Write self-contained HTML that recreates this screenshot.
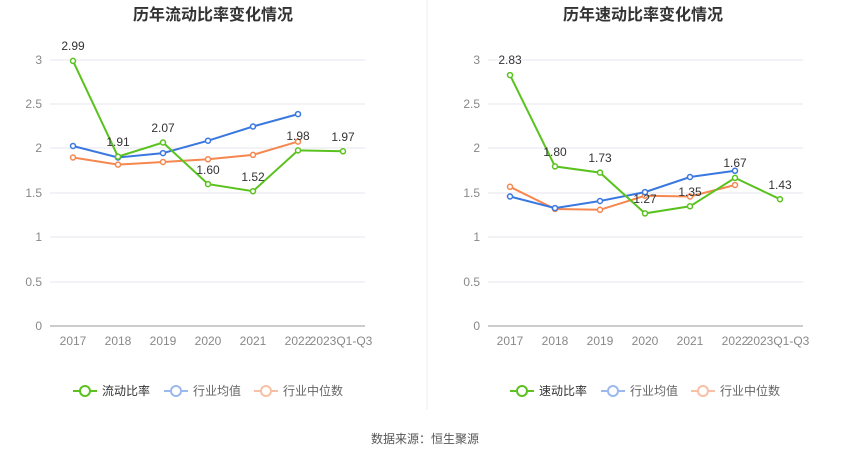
<!DOCTYPE html>
<html><head><meta charset="utf-8"><style>
body{margin:0;background:#fff;}
svg text{font-family:"Liberation Sans","Noto Sans CJK SC",sans-serif;}
</style></head><body>
<svg width="850" height="458" xmlns="http://www.w3.org/2000/svg">
<rect width="850" height="458" fill="#fff"/>
<line x1="427" y1="0" x2="427" y2="410" stroke="#eee"/>
<g id="L">
<text x="213" y="20" font-size="16" font-weight="bold" text-anchor="middle" fill="#333">历年流动比率变化情况</text>
<g stroke="#e6e6ef" stroke-width="1">
<line x1="50" y1="60" x2="365" y2="60"/><line x1="50" y1="104" x2="365" y2="104"/><line x1="50" y1="148" x2="365" y2="148"/><line x1="50" y1="193" x2="365" y2="193"/><line x1="50" y1="237" x2="365" y2="237"/><line x1="50" y1="282" x2="365" y2="282"/>
</g>
<line x1="50" y1="326" x2="365" y2="326" stroke="#999"/>
<g font-size="12" fill="#888" text-anchor="end">
<text x="42" y="64">3</text><text x="42" y="108">2.5</text><text x="42" y="152">2</text><text x="42" y="197">1.5</text><text x="42" y="241">1</text><text x="42" y="286">0.5</text><text x="42" y="330">0</text>
</g>
<g font-size="12" fill="#888" text-anchor="middle">
<text x="73" y="345">2017</text><text x="118" y="345">2018</text><text x="163" y="345">2019</text><text x="208" y="345">2020</text><text x="253" y="345">2021</text><text x="298" y="345">2022</text><text x="341" y="345">2023Q1-Q3</text>
</g>
<g fill="#fff" stroke-width="1.5">
<polyline fill="none" stroke="#f5874f" stroke-width="2" points="73,157.5 118,164.6 163,162 208,159.3 253,154.9 298,141.6"/>
<polyline fill="none" stroke="#3a78e0" stroke-width="2" points="73,146 118,157.5 163,153.1 208,140.7 253,126.5 298,114.1"/>
<polyline fill="none" stroke="#5ac21e" stroke-width="2" points="73,60.9 118,156.6 163,142.5 208,184.1 253,191.2 298,150.4 343,151.3"/>
<g stroke="#f5874f"><circle cx="73" cy="157.5" r="2.5"/><circle cx="118" cy="164.6" r="2.5"/><circle cx="163" cy="162" r="2.5"/><circle cx="208" cy="159.3" r="2.5"/><circle cx="253" cy="154.9" r="2.5"/><circle cx="298" cy="141.6" r="2.5"/></g>
<g stroke="#3a78e0"><circle cx="73" cy="146" r="2.5"/><circle cx="118" cy="157.5" r="2.5"/><circle cx="163" cy="153.1" r="2.5"/><circle cx="208" cy="140.7" r="2.5"/><circle cx="253" cy="126.5" r="2.5"/><circle cx="298" cy="114.1" r="2.5"/></g>
<g stroke="#5ac21e"><circle cx="73" cy="60.9" r="2.5"/><circle cx="118" cy="156.6" r="2.5"/><circle cx="163" cy="142.5" r="2.5"/><circle cx="208" cy="184.1" r="2.5"/><circle cx="253" cy="191.2" r="2.5"/><circle cx="298" cy="150.4" r="2.5"/><circle cx="343" cy="151.3" r="2.5"/></g>
</g>
<g font-size="12" fill="#333" text-anchor="middle">
<text x="73" y="50">2.99</text><text x="118" y="146">1.91</text><text x="163" y="132">2.07</text><text x="208" y="174">1.60</text><text x="253" y="181">1.52</text><text x="298" y="140">1.98</text><text x="343" y="141">1.97</text>
</g>
<g font-size="12" fill="#666">
<line x1="73" y1="391" x2="97" y2="391" stroke="#5ac21e" stroke-width="2"/><circle cx="85" cy="391" r="5" fill="#fff" stroke="#5ac21e" stroke-width="2"/><text x="102" y="395" fill="#333">流动比率</text>
<line x1="164" y1="391" x2="188" y2="391" stroke="#9bb9ef" stroke-width="2"/><circle cx="176" cy="391" r="5" fill="#fff" stroke="#9bb9ef" stroke-width="2"/><text x="193" y="395">行业均值</text>
<line x1="254" y1="391" x2="278" y2="391" stroke="#f8c0a4" stroke-width="2"/><circle cx="266" cy="391" r="5" fill="#fff" stroke="#f8c0a4" stroke-width="2"/><text x="283" y="395">行业中位数</text>
</g>
</g>
<g id="R">
<text x="643" y="20" font-size="16" font-weight="bold" text-anchor="middle" fill="#333">历年速动比率变化情况</text>
<g stroke="#e6e6ef" stroke-width="1">
<line x1="488" y1="60" x2="803" y2="60"/><line x1="488" y1="104" x2="803" y2="104"/><line x1="488" y1="148" x2="803" y2="148"/><line x1="488" y1="193" x2="803" y2="193"/><line x1="488" y1="237" x2="803" y2="237"/><line x1="488" y1="282" x2="803" y2="282"/>
</g>
<line x1="488" y1="326" x2="803" y2="326" stroke="#999"/>
<g font-size="12" fill="#888" text-anchor="end">
<text x="480" y="64">3</text><text x="480" y="108">2.5</text><text x="480" y="152">2</text><text x="480" y="197">1.5</text><text x="480" y="241">1</text><text x="480" y="286">0.5</text><text x="480" y="330">0</text>
</g>
<g font-size="12" fill="#888" text-anchor="middle">
<text x="510" y="345">2017</text><text x="555" y="345">2018</text><text x="600" y="345">2019</text><text x="645" y="345">2020</text><text x="690" y="345">2021</text><text x="735" y="345">2022</text><text x="778" y="345">2023Q1-Q3</text>
</g>
<g fill="#fff" stroke-width="1.5">
<polyline fill="none" stroke="#f5874f" stroke-width="2" points="510,186.8 555,209 600,209.8 645,195.7 690,196.5 735,185"/>
<polyline fill="none" stroke="#3a78e0" stroke-width="2" points="510,196.5 555,208.1 600,201 645,192.1 690,177 735,170.8"/>
<polyline fill="none" stroke="#5ac21e" stroke-width="2" points="510,75.1 555,166.4 600,172.6 645,213.4 690,206.3 735,177.9 780,199.2"/>
<g stroke="#f5874f"><circle cx="510" cy="186.8" r="2.5"/><circle cx="555" cy="209" r="2.5"/><circle cx="600" cy="209.8" r="2.5"/><circle cx="645" cy="195.7" r="2.5"/><circle cx="690" cy="196.5" r="2.5"/><circle cx="735" cy="185" r="2.5"/></g>
<g stroke="#3a78e0"><circle cx="510" cy="196.5" r="2.5"/><circle cx="555" cy="208.1" r="2.5"/><circle cx="600" cy="201" r="2.5"/><circle cx="645" cy="192.1" r="2.5"/><circle cx="690" cy="177" r="2.5"/><circle cx="735" cy="170.8" r="2.5"/></g>
<g stroke="#5ac21e"><circle cx="510" cy="75.1" r="2.5"/><circle cx="555" cy="166.4" r="2.5"/><circle cx="600" cy="172.6" r="2.5"/><circle cx="645" cy="213.4" r="2.5"/><circle cx="690" cy="206.3" r="2.5"/><circle cx="735" cy="177.9" r="2.5"/><circle cx="780" cy="199.2" r="2.5"/></g>
</g>
<g font-size="12" fill="#333" text-anchor="middle">
<text x="510" y="64">2.83</text><text x="555" y="156">1.80</text><text x="600" y="162">1.73</text><text x="645" y="203">1.27</text><text x="690" y="196">1.35</text><text x="735" y="167">1.67</text><text x="780" y="189">1.43</text>
</g>
<g font-size="12" fill="#666">
<line x1="510" y1="391" x2="534" y2="391" stroke="#5ac21e" stroke-width="2"/><circle cx="522" cy="391" r="5" fill="#fff" stroke="#5ac21e" stroke-width="2"/><text x="539" y="395" fill="#333">速动比率</text>
<line x1="601" y1="391" x2="625" y2="391" stroke="#9bb9ef" stroke-width="2"/><circle cx="613" cy="391" r="5" fill="#fff" stroke="#9bb9ef" stroke-width="2"/><text x="630" y="395">行业均值</text>
<line x1="691" y1="391" x2="715" y2="391" stroke="#f8c0a4" stroke-width="2"/><circle cx="703" cy="391" r="5" fill="#fff" stroke="#f8c0a4" stroke-width="2"/><text x="720" y="395">行业中位数</text>
</g>
</g>
<text x="425" y="443" font-size="12" fill="#555" text-anchor="middle">数据来源：恒生聚源</text>
</svg>
</body></html>
